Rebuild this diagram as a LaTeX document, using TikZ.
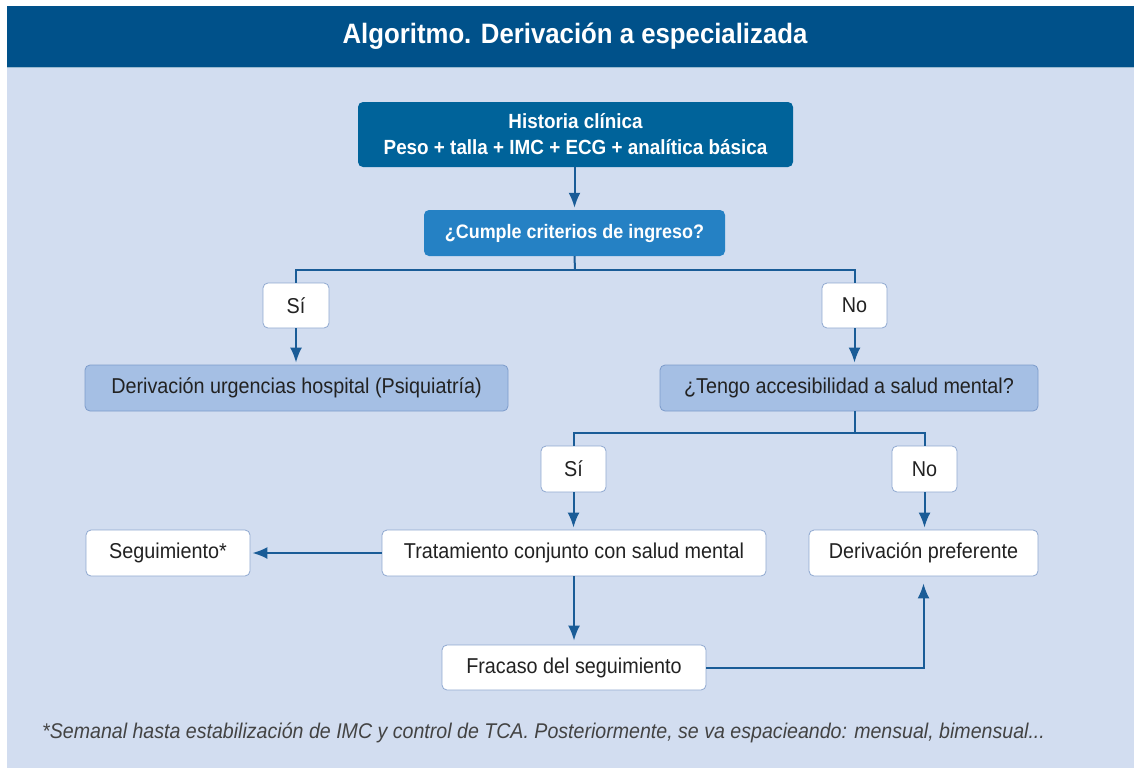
\documentclass[tikz,border=0pt]{standalone}
\usepackage{fontspec}
\setmainfont{Liberation Sans}[FakeStretch=0.92]
\usetikzlibrary{arrows.meta}
\definecolor{band}{HTML}{00518A}
\definecolor{bgc}{HTML}{D2DDF0}
\definecolor{topbox}{HTML}{00639A}
\definecolor{qbox}{HTML}{2581C4}
\definecolor{lbox}{HTML}{A5BFE4}
\definecolor{lborder}{HTML}{7D9CCB}
\definecolor{wborder}{HTML}{8FA8D0}
\definecolor{linec}{HTML}{1A5C97}
\definecolor{txt}{HTML}{222222}
\tikzset{
  box/.style={rounded corners=5pt, inner sep=0pt, align=center, font=\fontsize{21.5}{25}\selectfont, text=txt},
  darkbox/.style={box, fill=topbox, text=white, font=\bfseries\fontsize{20.5}{26}\selectfont},
  qboxs/.style={box, fill=qbox, text=white, font=\bfseries\fontsize{19.5}{23}\selectfont},
  lightbox/.style={box, fill=lbox, draw=lborder, line width=0.8pt},
  whitebox/.style={box, fill=white, draw=wborder, line width=0.8pt},
  conn/.style={draw=linec, line width=2pt},
  arr/.style={conn, -{Latex[length=15pt,width=12pt]}, shorten >=2pt},
}
\begin{document}
\begin{tikzpicture}[x=1pt,y=-1pt]
\useasboundingbox (0,0) rectangle (1134,768);
\fill[white] (0,0) rectangle (1134,768);
\fill[bgc] (7,67) rectangle (1134,768);
\fill[band] (7,6) rectangle (1134,67);
\draw[white!60!band, line width=1pt] (7,67) -- (1134,67);
\node[text=white, font=\bfseries\fontsize{28}{32}\selectfont] (title) at (575,36) {Algoritmo. Derivación a especializada};

\node[darkbox, minimum width=435, minimum height=65] (hist) at (575.5,134.5) {Historia clínica\\Peso + talla + IMC + ECG + analítica básica};
\node[qboxs, minimum width=301, minimum height=46] (cumple) at (574.5,233) {¿Cumple criterios de ingreso?};

\node[whitebox, minimum width=66, minimum height=45] (si1) at (296,305.5) {Sí};
\node[whitebox, minimum width=65, minimum height=45] (no1) at (854.5,305.5) {No};

\node[lightbox, minimum width=423, minimum height=46] (urg) at (296.5,388) {Derivación urgencias hospital (Psiquiatría)};
\node[lightbox, minimum width=378, minimum height=46] (tengo) at (849,388) {¿Tengo accesibilidad a salud mental?};

\node[whitebox, minimum width=65, minimum height=46] (si2) at (573.5,469) {Sí};
\node[whitebox, minimum width=65, minimum height=46] (no2) at (924.5,469) {No};

\node[whitebox, minimum width=164, minimum height=46] (seg) at (168,553) {Seguimiento*};
\node[whitebox, minimum width=384, minimum height=46] (trat) at (574,553) {Tratamiento conjunto con salud mental};
\node[whitebox, minimum width=229, minimum height=46] (pref) at (923.5,553) {Derivación preferente};
\node[whitebox, minimum width=264, minimum height=45] (fra) at (574,667.5) {Fracaso del seguimiento};

\node[anchor=west, inner xsep=0pt, text=txt!85!white, font=\itshape\fontsize{21.3}{24}\selectfont] (foot) at (42,733) {*Semanal hasta estabilización de IMC y control de TCA. Posteriormente, se va espacieando: mensual, bimensual...};

\coordinate (b1) at (575,270);
\coordinate (b2) at (855,433);

\draw[arr] (hist.south -| cumple.south) -- (cumple.north);
\draw[conn] (cumple.south) -- (b1);
\draw[conn] (si1.north) -- (si1.north |- b1) -- (no1.north |- b1) -- (no1.north);
\draw[arr] (si1.south) -- (si1.south |- urg.north);
\draw[arr] (no1.south) -- (no1.south |- tengo.north);
\draw[conn] (tengo.south -| b2) -- (b2);
\draw[conn] (si2.north) -- (si2.north |- b2) -- (no2.north |- b2) -- (no2.north);
\draw[arr] (si2.south) -- (si2.south |- trat.north);
\draw[arr] (no2.south) -- (no2.south |- pref.north);
\draw[arr] (trat.west) -- (seg.east);
\draw[arr, shorten >=4pt] (trat.south) -- (fra.north);
\draw[arr, shorten >=7pt] (fra.east) -| (pref.south);
\end{tikzpicture}
\end{document}
